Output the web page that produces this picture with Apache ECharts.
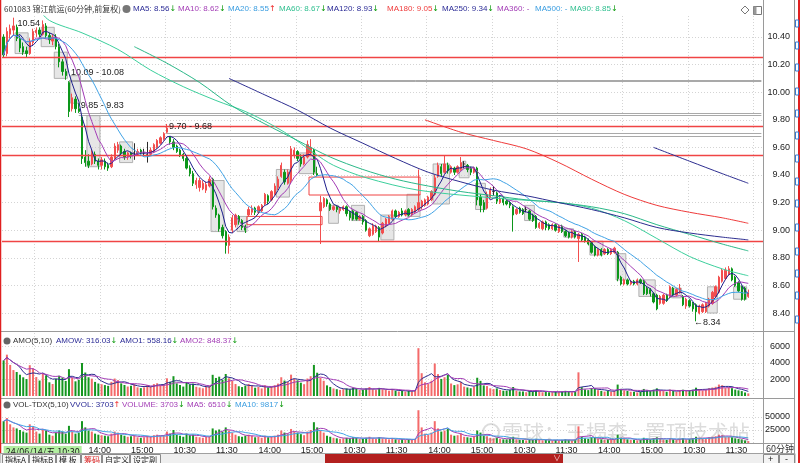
<!DOCTYPE html>
<html>
<head>
<meta charset="utf-8">
<script src="https://cdn.jsdelivr.net/npm/echarts@6/dist/echarts.min.js"></script>
<style>
html,body{margin:0;padding:0;background:#fff;}
#chart{width:800px;height:463px;}
</style>
</head>
<body>
<div id="chart"></div>
<script>
// ---------------- data ----------------
// each candle: [open, close, low, high]
const ohlc = [
[10.40,10.27,10.25,10.42],[10.28,10.44,10.26,10.47],[10.42,10.46,10.39,10.49],[10.45,10.48,10.41,10.54],[10.47,10.39,10.37,10.49],
[10.39,10.32,10.29,10.41],[10.33,10.29,10.27,10.36],[10.30,10.28,10.25,10.33],[10.28,10.37,10.27,10.39],[10.36,10.44,10.34,10.46],
[10.43,10.45,10.40,10.47],[10.45,10.42,10.40,10.47],[10.42,10.49,10.41,10.52],[10.48,10.41,10.39,10.50],[10.41,10.38,10.35,10.43],
[10.37,10.40,10.34,10.42],[10.40,10.33,10.31,10.42],[10.33,10.22,10.18,10.35],[10.22,10.15,10.12,10.24],[10.15,10.12,10.09,10.17],
[10.07,9.86,9.82,10.08],[9.88,9.96,9.86,9.99],[9.95,9.88,9.85,9.97],[9.88,9.86,9.85,9.92],[9.82,9.52,9.48,9.83],
[9.53,9.49,9.46,9.58],[9.50,9.47,9.45,9.55],[9.48,9.56,9.47,9.58],[9.55,9.50,9.48,9.57],[9.50,9.47,9.44,9.52],
[9.47,9.51,9.44,9.53],[9.50,9.46,9.44,9.52],[9.47,9.45,9.43,9.49],[9.46,9.53,9.45,9.55],[9.52,9.61,9.51,9.63],
[9.58,9.62,9.56,9.64],[9.61,9.56,9.54,9.62],[9.57,9.53,9.51,9.59],[9.53,9.56,9.51,9.57],[9.56,9.54,9.52,9.57],
[9.56,9.56,9.51,9.63],[9.55,9.57,9.54,9.59],[9.58,9.56,9.55,9.59],[9.56,9.56,9.54,9.59],[9.55,9.55,9.49,9.64],
[9.55,9.58,9.54,9.60],[9.57,9.62,9.56,9.63],[9.60,9.65,9.59,9.66],[9.63,9.67,9.62,9.68],[9.66,9.70,9.65,9.71],
[9.71,9.74,9.70,9.77],[9.68,9.64,9.62,9.68],[9.64,9.60,9.58,9.66],[9.61,9.57,9.56,9.62],[9.58,9.54,9.53,9.59],
[9.55,9.52,9.50,9.56],[9.52,9.45,9.44,9.54],[9.45,9.41,9.39,9.47],[9.41,9.34,9.32,9.43],[9.33,9.36,9.30,9.38],
[9.31,9.36,9.28,9.38],[9.30,9.34,9.29,9.36],[9.29,9.33,9.27,9.35],[9.32,9.37,9.31,9.39],[9.37,9.17,9.15,9.38],
[9.16,9.11,9.09,9.18],[9.11,9.01,8.99,9.12],[9.02,8.96,8.94,9.04],[8.99,8.89,8.83,9.00],[8.89,8.95,8.83,8.97],
[9.00,9.09,8.98,9.11],[9.04,9.11,9.02,9.12],[9.10,9.06,9.04,9.11],[9.07,9.02,9.00,9.08],[9.03,9.00,8.98,9.04],
[9.11,9.15,9.10,9.17],[9.13,9.16,9.11,9.18],[9.16,9.13,9.11,9.17],[9.13,9.17,9.12,9.18],[9.14,9.18,9.13,9.19],
[9.19,9.26,9.18,9.27],[9.25,9.21,9.19,9.26],[9.22,9.28,9.21,9.29],[9.26,9.32,9.25,9.34],[9.31,9.37,9.29,9.39],
[9.39,9.47,9.38,9.49],[9.42,9.35,9.33,9.44],[9.34,9.42,9.33,9.44],[9.36,9.59,9.34,9.61],[9.54,9.58,9.52,9.60],
[9.57,9.52,9.50,9.58],[9.53,9.48,9.46,9.55],[9.48,9.53,9.47,9.55],[9.53,9.62,9.52,9.65],[9.56,9.60,9.54,9.66],
[9.58,9.42,9.40,9.59],[9.41,9.40,9.39,9.46],[9.14,9.20,8.90,9.25],[9.17,9.23,9.16,9.24],[9.22,9.19,9.17,9.23],
[9.19,9.15,9.14,9.20],[9.15,9.17,9.14,9.18],[9.17,9.15,9.13,9.18],[9.14,9.16,9.12,9.17],[9.15,9.17,9.14,9.18],
[9.17,9.12,9.10,9.18],[9.13,9.09,9.07,9.14],[9.14,9.08,9.07,9.15],[9.13,9.08,9.07,9.14],[9.08,9.10,9.07,9.11],
[9.10,9.06,9.04,9.11],[9.07,9.00,8.99,9.08],[8.96,9.01,8.95,9.02],[8.97,9.03,8.96,9.05],[8.99,9.03,8.98,9.04],
[9.02,8.95,8.92,9.03],[8.98,9.05,8.97,9.06],[9.03,9.08,9.02,9.09],[9.05,9.10,9.04,9.11],[9.08,9.14,9.07,9.15],
[9.14,9.10,9.09,9.15],[9.10,9.13,9.09,9.14],[9.14,9.11,9.10,9.16],[9.11,9.14,9.10,9.15],[9.15,9.11,9.10,9.16],
[9.11,9.15,9.10,9.16],[9.13,9.17,9.12,9.18],[9.15,9.20,9.14,9.44],[9.17,9.21,9.15,9.22],[9.18,9.22,9.17,9.23],
[9.19,9.24,9.18,9.25],[9.22,9.28,9.21,9.29],[9.26,9.38,9.25,9.40],[9.39,9.47,9.38,9.49],[9.46,9.41,9.39,9.48],
[9.42,9.48,9.41,9.54],[9.47,9.43,9.41,9.49],[9.42,9.46,9.41,9.47],[9.45,9.42,9.40,9.46],[9.42,9.46,9.41,9.47],
[9.44,9.49,9.43,9.53],[9.48,9.48,9.45,9.50],[9.47,9.44,9.42,9.48],[9.45,9.42,9.40,9.46],[9.42,9.45,9.41,9.46],
[9.45,9.22,9.18,9.46],[9.24,9.18,9.13,9.26],[9.20,9.15,9.13,9.22],[9.16,9.26,9.15,9.28],[9.24,9.29,9.23,9.31],
[9.28,9.28,9.25,9.32],[9.27,9.21,9.19,9.28],[9.20,9.23,9.19,9.24],[9.23,9.20,9.18,9.24],[9.21,9.19,9.18,9.22],
[9.20,9.18,9.16,9.21],[9.17,9.11,8.99,9.18],[9.12,9.15,9.11,9.16],[9.16,9.13,9.12,9.17],[9.15,9.12,9.11,9.16],
[9.15,9.15,9.13,9.17],[9.14,9.08,9.07,9.15],[9.11,9.07,9.06,9.12],[9.10,9.02,9.01,9.11],[9.02,9.05,9.01,9.06],
[9.01,9.06,9.00,9.07],[9.06,9.02,9.00,9.07],[9.04,9.01,9.00,9.05],[9.01,9.04,9.00,9.05],[9.04,9.00,8.99,9.05],
[8.99,9.03,8.98,9.04],[9.03,8.99,8.98,9.04],[8.99,8.96,8.95,9.00],[8.98,8.95,8.94,8.99],[8.95,8.99,8.94,9.00],
[8.99,8.95,8.94,9.00],[8.94,8.97,8.77,8.98],[8.97,8.93,8.92,8.98],[8.95,8.92,8.91,8.96],[8.93,8.90,8.89,8.94],
[8.91,8.84,8.83,8.92],[8.88,8.82,8.81,8.89],[8.82,8.86,8.81,8.87],[8.86,8.82,8.81,8.87],[8.83,8.86,8.82,8.87],
[8.86,8.83,8.82,8.87],[8.83,8.86,8.82,8.87],[8.84,8.87,8.83,8.88],[8.84,8.65,8.63,8.85],[8.66,8.61,8.60,8.67],
[8.61,8.64,8.60,8.65],[8.64,8.61,8.60,8.65],[8.61,8.63,8.60,8.64],[8.63,8.61,8.60,8.64],[8.61,8.64,8.60,8.65],
[8.64,8.62,8.61,8.65],[8.63,8.54,8.53,8.64],[8.58,8.54,8.53,8.59],[8.57,8.54,8.52,8.58],[8.54,8.48,8.47,8.55],
[8.53,8.43,8.42,8.54],[8.47,8.52,8.46,8.53],[8.47,8.53,8.46,8.54],[8.53,8.49,8.48,8.54],[8.52,8.59,8.51,8.60],
[8.58,8.53,8.52,8.59],[8.53,8.57,8.52,8.58],[8.55,8.58,8.54,8.61],[8.52,8.46,8.45,8.53],[8.45,8.50,8.43,8.51],
[8.49,8.45,8.44,8.50],[8.47,8.43,8.41,8.48],[8.46,8.41,8.34,8.47],[8.40,8.45,8.39,8.46],[8.41,8.46,8.40,8.47],
[8.41,8.47,8.40,8.48],[8.45,8.50,8.44,8.51],[8.47,8.55,8.46,8.56],[8.52,8.59,8.51,8.60],[8.55,8.66,8.54,8.67],
[8.63,8.71,8.62,8.72],[8.65,8.71,8.64,8.73],[8.68,8.72,8.67,8.74],[8.72,8.64,8.63,8.73],[8.66,8.60,8.59,8.67],
[8.62,8.56,8.55,8.63],[8.59,8.50,8.49,8.60],[8.58,8.50,8.49,8.59],[8.52,8.55,8.51,8.57]
];
// volume (手)
const volume = [42000,48000,36000,30000,28000,25000,22000,20000,36000,32000,
22000,18000,26000,24000,16000,14000,20000,24000,22000,18000,
33000,22000,18000,20000,42000,30000,24000,22000,18000,16000,
15000,14000,13000,18000,22000,20000,16000,14000,12000,13000,
15000,11000,10000,11000,14000,12000,15000,16000,14000,15000,
22000,18000,25000,16000,14000,12000,18000,15000,16000,12000,
11000,10000,12000,13000,28000,24000,26000,22000,30000,24000,
20000,16000,13000,12000,14000,16000,14000,11000,12000,10000,
14000,11000,12000,14000,16000,24000,20000,18000,27000,22000,
20000,17000,15000,22000,25000,40000,30000,24000,20000,14000,
12000,10000,9000,8000,9000,10000,9000,11000,10000,8000,
8000,10000,12000,9000,8000,11000,9000,8000,7000,9000,
7000,6000,7000,6000,7000,6000,8000,63000,30000,18000,
16000,20000,42000,28000,22000,24000,27000,16000,14000,15000,
18000,12000,11000,10000,12000,24000,20000,14000,13000,10000,
9000,10000,8000,7000,7000,8000,12000,7000,6000,6000,
5000,7000,6000,8000,6000,5000,6000,5000,5000,6000,
5000,6000,7000,6000,5000,6000,32000,12000,9000,8000,
11000,10000,8000,7000,6000,7000,6000,7000,16000,10000,
8000,7000,6000,6000,5000,6000,10000,8000,7000,9000,
11000,8000,7000,6000,9000,7000,6000,8000,9000,7000,
8000,9000,12000,10000,8000,9000,11000,12000,13000,16000,
15000,11000,12000,11000,9000,8000,7000,5000,3703];
// amount (万元)
const amount = [4313,5011,3766,3144,2909,2580,2264,2056,3733,3341,
2299,1876,2727,2498,1661,1456,2066,2453,2233,1822,
3254,2191,1778,1968,3998,2847,2273,2103,1710,1515,
1427,1324,1229,1715,2114,1924,1530,1334,1147,1240,
1434,1053,956,1052,1337,1150,1443,1544,1354,1455,
2143,1735,2400,1531,1336,1142,1701,1412,1494,1123,
1030,934,1120,1218,2568,2186,2343,1971,2667,2148,
1818,1458,1178,1082,1260,1464,1282,1004,1100,918,
1296,1013,1114,1305,1499,2273,1870,1696,2589,2108,
1904,1612,1430,2116,2400,3768,2820,2208,1846,1287,
1098,917,824,733,825,912,818,999,908,728,
725,900,1081,813,722,985,815,726,637,823,
637,548,638,548,638,549,734,5796,2763,1660,
1478,1856,3940,2652,2070,2275,2546,1514,1319,1419,
1708,1138,1038,942,1134,2213,1836,1281,1204,929,
835,921,738,644,643,734,1093,641,548,547,
458,636,544,722,543,453,541,451,452,540,
452,539,627,537,450,537,2870,1072,803,712,
972,882,709,617,532,618,532,621,1384,861,
691,603,518,517,432,517,854,683,598,763,
927,682,597,509,773,597,514,686,761,595,
676,759,1009,845,677,762,935,1026,1117,1386,
1307,958,1046,950,774,685,595,425,316];
// long moving averages: [bar index, value]
const ma60Pts = [[10,10.62],[14,10.52],[24,10.43],[35,10.31],[45,10.16],[55,10.04],[65,9.94],[75,9.85],[86,9.71],[95,9.56],[101,9.47],[111,9.38],[127,9.29],[152,9.23],[170,9.20],[180,9.16],[190,9.07],[200,8.94],[210,8.81],[220,8.72],[228,8.67]];
const ma90Pts = [[40,10.33],[50,10.21],[60,10.07],[70,9.90],[80,9.77],[90,9.65],[100,9.53],[110,9.44],[120,9.37],[130,9.32],[140,9.28],[150,9.25],[160,9.22],[170,9.20],[180,9.17],[190,9.12],[200,9.04],[210,8.97],[220,8.90],[228,8.85]];
const ma120Pts = [[69,10.10],[80,9.98],[90,9.87],[100,9.74],[110,9.63],[120,9.52],[130,9.42],[140,9.35],[150,9.29],[160,9.25],[170,9.20],[180,9.15],[190,9.09],[200,9.02],[210,8.98],[220,8.95],[228,8.93]];
const ma180Pts = [[129,9.80],[140,9.71],[150,9.65],[160,9.59],[170,9.49],[180,9.37],[190,9.26],[200,9.18],[210,9.13],[220,9.09],[228,9.05]];
const ma250Pts = [[199,9.60],[210,9.50],[220,9.41],[228,9.34]];
// horizontal levels
const redLevels = [10.25, 9.75, 9.54, 8.92];
const gapLines = [[20, 10.09, 10.08], [23, 9.85, 9.83], [50, 9.70, 9.68]];
// boxes: [firstBar, lastBar, low, high]
const grayBoxes = [[4,7,10.28,10.43],[12,15,10.33,10.47],[16,19,10.10,10.29],[21,23,9.92,10.12],[26,29,9.46,9.83],[36,39,9.49,9.64],
[64,67,8.99,9.36],[72,74,8.99,9.10],[84,87,9.24,9.44],[91,95,9.41,9.56],[100,102,9.05,9.18],[107,110,9.07,9.18],[116,119,8.93,9.11],
[124,127,9.10,9.26],[132,136,9.19,9.48],[140,142,9.38,9.45],[141,141,9.46,9.50],[145,147,9.15,9.34],[160,162,9.07,9.18],[172,174,8.95,9.01],
[180,183,8.82,8.92],[188,190,8.64,8.83],[195,199,8.52,8.64],[205,207,8.51,8.58],[216,218,8.40,8.59],[224,227,8.50,8.59]];
const redBoxes = [[94,127,9.255,9.385],[75,97,9.04,9.10]];
// axis tick labels
const priceTicks = [8.40,8.60,8.80,9.00,9.20,9.40,9.60,9.80,10.00,10.20,10.40];
const amoTicks = [2000,4000,6000];
const volTicks = [25000,50000];
const xTicks = [[0,'24/06/14/五 10:30'],[26,'14:00'],[39,'15:00'],[52,'10:30'],[65,'11:30'],[78,'14:00'],[91,'15:00'],[104,'10:30'],[117,'11:30'],[130,'14:00'],[143,'15:00'],[156,'10:30'],[169,'11:30'],[182,'14:00'],[195,'15:00'],[208,'10:30'],[221,'11:30']];
const slotCount = 233;

// ---------------- build ----------------
const FONT = "'Liberation Sans', Arial, 'Noto Sans CJK SC', sans-serif";
const CJK = "'Noto Sans CJK SC', 'Liberation Sans', sans-serif";
const cats = Array.from({length: slotCount}, (_, i) => String(i));
const tickMap = {}; xTicks.forEach(t => { tickMap[t[0]] = t[1]; });
const UP = '#f24e4e', DN = '#0c961a', DOJI = '#2a2a2a';
const UPV = '#f46a6a', DNV = '#15961f';

function maOf(arr, n) {
  return arr.map((_, i) => {
    const s = Math.max(0, i - n + 1); let sum = 0;
    for (let k = s; k <= i; k++) sum += arr[k];
    return +(sum / (i - s + 1)).toFixed(4);
  });
}
const closes = ohlc.map(d => d[1]);
const candleData = ohlc.map(d => {
  const c = d[1] === d[0] ? DOJI : (d[1] > d[0] ? UP : DN);
  return {value: d, itemStyle: {color: c, color0: c, borderColor: c, borderColor0: c}};
});
const dirColor = i => (ohlc[i][1] >= ohlc[i][0] ? UPV : DNV);
const volData = volume.map((v, i) => ({value: v, itemStyle: {color: dirColor(i)}}));
const amoData = amount.map((v, i) => ({value: v, itemStyle: {color: dirColor(i)}}));

function boxRender(fill, stroke) {
  return function (params, api) {
    const a = api.coord([api.value(0), api.value(3)]);
    const b = api.coord([api.value(1), api.value(2)]);
    const w = api.size([1, 0])[0];
    return {type: 'rect', shape: {x: a[0] - w / 2, y: a[1], width: b[0] - a[0] + w, height: b[1] - a[1]},
      style: {fill: fill, stroke: stroke, lineWidth: 1}};
  };
}
function line(name, data, color, xi, yi, extra) {
  return Object.assign({type: 'line', name, data, xAxisIndex: xi, yAxisIndex: yi, showSymbol: false, symbol: 'none',
    lineStyle: {color, width: 1}, itemStyle: {color}, silent: true, z: 5}, extra || {});
}
const gridBase = {left: 2, right: 37, containLabel: false, outerBoundsMode: 'none', show: false};
const splitV = {show: true, interval: (i) => i % 20 === 10, lineStyle: {color: '#d4d4d4', type: [1, 2], width: 1}};
function xAx(gi, labels) {
  return {type: 'category', gridIndex: gi, data: cats, boundaryGap: true,
    axisLine: {show: false}, axisTick: {show: false}, splitLine: splitV,
    axisLabel: labels ? {
      show: true, interval: (i) => tickMap[i] !== undefined, hideOverlap: false,
      formatter: (v, i) => (i === 0 ? '{d|' + tickMap[0] + '}' : (tickMap[i] || '')),
      align: 'left', margin: 3, fontSize: 9, color: '#222', fontFamily: FONT,
      rich: {d: {backgroundColor: '#b2eea0', padding: [1, 2, 0, 2], fontSize: 9, color: '#222', fontFamily: CJK}}
    } : {show: false}};
}
function yAx(gi, min, max, ticks, fmt) {
  return {type: 'value', gridIndex: gi, position: 'right', min, max,
    axisLine: {show: false}, axisTick: {show: false, customValues: ticks},
    axisLabel: {show: true, customValues: ticks, formatter: fmt, align: 'right', margin: 27, fontSize: 9, color: '#222', fontFamily: FONT, hideOverlap: false},
    splitLine: {show: true, lineStyle: {color: '#d4d4d4', type: [1, 2], width: 1}}};
}

const markLineData = [];
redLevels.forEach(v => markLineData.push({yAxis: v, lineStyle: {color: '#f04444', width: 1.3, type: 'solid'}, label: {show: false}}));
gapLines.forEach(g => {
  markLineData.push([{coord: [g[0], g[1]], lineStyle: {color: '#a9a9a9', width: 1, type: 'solid'},
    label: {show: true, position: 'insideStartTop', formatter: g[1].toFixed(2) + ' - ' + g[2].toFixed(2), color: '#222', fontSize: 9, fontFamily: FONT, distance: [2, 3]}},
    {coord: [slotCount - 1, g[1]]}]);
  markLineData.push([{coord: [g[0], g[2]], lineStyle: {color: '#a9a9a9', width: 1, type: 'solid'}, label: {show: false}},
    {coord: [slotCount - 1, g[2]]}]);
});
markLineData.push({yAxis: 10.31, lineStyle: {opacity: 0, width: 0},
  label: {show: true, position: 'end', formatter: '10.31', backgroundColor: '#a8ec92', color: '#111', padding: [2, 3, 1, 3], fontSize: 9, fontFamily: FONT, distance: 0, offset: [0, -5]}});

const TXT = (x, y, text, fill, size, extra) => ({type: 'text', x, y, silent: true, z: 50,
  style: Object.assign({text, fill, fontSize: size || 8, fontFamily: FONT, verticalAlign: 'middle', align: 'left'}, extra || {})});
const RICH = (x, y, label, color, arrow, arrowColor) => TXT(x, y, '{n|' + label + '}' + (arrow ? '{a|' + arrow + '}' : ''), color, 8, {
  rich: {n: {fill: color, fontSize: 8, fontFamily: FONT}, a: {fill: arrowColor, fontSize: 8, fontFamily: "'DejaVu Sans', sans-serif"}}});
const G = '#0a9a0a', R = '#ee2222';
const NAVY = '#2b2b96', PURP = '#a33db6', LBLUE = '#3a9de0', TEAL = '#2fbf8f', RED = '#ef3b3b';
const LN = (x1, y1, x2, y2, stroke, w) => ({type: 'line', silent: true, z: 40, shape: {x1, y1, x2, y2}, style: {stroke, lineWidth: w || 1}});
const RECT = (x, y, w, h, fill, stroke, z) => ({type: 'rect', silent: true, z: z || 40, shape: {x, y, width: w, height: h}, style: {fill, stroke: stroke || 'none', lineWidth: 1}});

const graphics = [
  TXT(4, 9, '601083 锦江航运(60分钟,前复权)', '#333', 8, {fontFamily: CJK}),
  {type: 'circle', silent: true, z: 50, shape: {cx: 126.5, cy: 9, r: 4}, style: {fill: '#777'}},
  RICH(133, 9, 'MA5: 8.56', NAVY, '↓', G),
  RICH(178, 9, 'MA10: 8.62', PURP, '↓', G),
  RICH(228, 9, 'MA20: 8.55', LBLUE, '↑', R),
  RICH(279, 9, 'MA60: 8.67', TEAL, '↓', G),
  RICH(327, 9, 'MA120: 8.93', NAVY, '↓', G),
  RICH(387, 9, 'MA180: 9.05', RED, '↓', G),
  RICH(442, 9, 'MA250: 9.34', NAVY, '↓', G),
  RICH(497, 9, 'MA360: -', PURP),
  RICH(535, 9, 'MA500: -', LBLUE),
  RICH(570, 9, 'MA90: 8.85', TEAL, '↓', G),
  {type: 'polygon', silent: true, z: 50, shape: {points: [[745, 6], [749, 10], [745, 14], [741, 10]]}, style: {fill: 'none', stroke: '#777'}},
  RECT(753.5, 6.5, 8, 8, 'none', '#777', 50),
  RECT(753.5, 6.5, 3, 8, '#999', 'none', 50),
  // AMO header
  {type: 'circle', silent: true, z: 50, shape: {cx: 7, cy: 341, r: 3.5}, style: {fill: '#666'}},
  TXT(13, 341, 'AMO(5,10)', '#333'),
  RICH(56, 341, 'AMOW: 316.03', NAVY, '↓', G),
  RICH(120, 341, 'AMO1: 558.16', NAVY, '↓', G),
  RICH(180, 341, 'AMO2: 848.37', PURP, '↓', G),
  // VOL header
  {type: 'circle', silent: true, z: 50, shape: {cx: 7, cy: 405, r: 3.5}, style: {fill: '#666'}},
  TXT(13, 405, 'VOL-TDX(5,10)', '#333'),
  RICH(70, 405, 'VVOL: 3703', NAVY, '↑', R),
  RICH(122, 405, 'VOLUME: 3703', PURP, '↓', G),
  RICH(187, 405, 'MA5: 6510', PURP, '↓', G),
  RICH(235, 405, 'MA10: 9817', LBLUE, '↓', G),
  TXT(766, 449, '60分钟', '#333', 9, {fontFamily: CJK}),
  // separators / frame
  LN(0, 331.5, 795, 331.5, '#9a9a9a'),
  LN(0, 398.5, 795, 398.5, '#9a9a9a'),
  LN(0, 443.5, 795, 443.5, '#9a9a9a'),
  LN(763.5, 0, 763.5, 453, '#9a9a9a'),
  LN(794.5, 0, 794.5, 463, '#9a9a9a'),
  LN(0.5, 0, 0.5, 463, '#e02020', 1.5),
  LN(799, 0, 799, 463, '#e02020', 2),
  // bottom bar
  RECT(0, 453.5, 795, 10, '#efefef', '#a0a0a0'),
  RECT(2.5, 454.5, 26, 9, '#f8f8f8', '#8a8a8a'), TXT(5, 459.5, '指标A', '#222', 8, {fontFamily: CJK}),
  RECT(29.5, 454.5, 26, 9, '#f8f8f8', '#8a8a8a'), TXT(32, 459.5, '指标B', '#222', 8, {fontFamily: CJK}),
  RECT(56.5, 454.5, 24, 9, '#f8f8f8', '#8a8a8a'), TXT(59, 459.5, '模 板', '#222', 8, {fontFamily: CJK}),
  RECT(81.5, 454.5, 20, 9, '#f8f8f8', '#8a8a8a'), TXT(84, 459.5, '筹码', '#d22', 8, {fontFamily: CJK}),
  RECT(102.5, 454.5, 27, 9, '#f8f8f8', '#8a8a8a'), TXT(105, 459.5, '自定义', '#222', 8, {fontFamily: CJK}),
  RECT(130.5, 454.5, 30, 9, '#f8f8f8', '#8a8a8a'), TXT(133, 459.5, '设定副', '#222', 8, {fontFamily: CJK}),
  RECT(325, 454, 238, 9, '#b3201f'),
  TXT(553, 459, '∨', '#f0c0c0', 8),
  RECT(763.5, 454.5, 15, 9, '#f4f4f4', '#8a8a8a'), TXT(768, 459.5, '+', '#222', 9),
  RECT(779.5, 454.5, 15, 9, '#f4f4f4', '#8a8a8a'), TXT(785, 459.5, '-', '#222', 9),
  // watermark
  {type: 'circle', silent: true, z: 60, shape: {cx: 491, cy: 432, r: 8}, style: {fill: 'none', stroke: 'rgba(140,140,140,0.3)', lineWidth: 2}},
  TXT(502, 432, '雪球：王揭森 - 置顶技术帖', 'rgba(130,130,130,0.28)', 21, {fontFamily: CJK})
];
[20, 42, 64, 88, 110, 132, 155, 178, 200, 224, 248, 270, 292, 316].forEach(y => graphics.push(RECT(795.5, y, 3, 7, 'none', '#3a78d0', 45)));

const option = {
  animation: false,
  backgroundColor: '#ffffff',
  textStyle: {fontFamily: FONT},
  grid: [
    Object.assign({}, gridBase, {top: 16, height: 314}),
    Object.assign({}, gridBase, {top: 333, height: 63}),
    Object.assign({}, gridBase, {top: 400, height: 43})
  ],
  xAxis: [xAx(0, false), xAx(1, false), xAx(2, true)],
  yAxis: [
    yAx(0, 8.277, 10.552, priceTicks, v => v.toFixed(2)),
    yAx(1, 0, 7636, amoTicks, v => String(v)),
    yAx(2, 0, 82690, volTicks, v => String(v))
  ],
  graphic: graphics,
  series: [
    {type: 'custom', name: 'grayBoxes', xAxisIndex: 0, yAxisIndex: 0, data: grayBoxes, encode: {x: [0, 1], y: [2, 3]},
      renderItem: boxRender('rgba(205,205,205,0.5)', 'rgba(170,170,170,0.9)'), z: 1, silent: true},
    {type: 'candlestick', name: 'K', xAxisIndex: 0, yAxisIndex: 0, data: candleData, barWidth: 1.8,
      itemStyle: {borderWidth: 1}, z: 3, silent: true,
      markLine: {silent: true, symbol: ['none', 'none'], animation: false, data: markLineData},
      markPoint: {silent: true, symbol: 'circle', symbolSize: 0, animation: false, data: [
        {coord: [3, 10.54], label: {show: true, formatter: '10.54', position: 'right', distance: 4, offset: [0, 6], color: '#222', fontSize: 9, fontFamily: FONT}},
        {coord: [212, 8.34], label: {show: true, formatter: '←8.34', position: 'right', distance: 0, offset: [-2, 1], color: '#222', fontSize: 9, fontFamily: FONT}}
      ]}},
    {type: 'custom', name: 'redBoxes', xAxisIndex: 0, yAxisIndex: 0, data: redBoxes, encode: {x: [0, 1], y: [2, 3]},
      renderItem: boxRender('none', '#f04444'), z: 4, silent: true},
    line('MA5', maOf(closes, 5), '#1e1e8c', 0, 0),
    line('MA10', maOf(closes, 10), '#a33db6', 0, 0),
    line('MA20', maOf(closes, 20), '#41a3e6', 0, 0),
    line('MA60', ma60Pts, '#3ccf9c', 0, 0, {smooth: 0.3}),
    line('MA90', ma90Pts, '#2ab888', 0, 0, {smooth: 0.3}),
    line('MA120', ma120Pts, '#2d2d90', 0, 0, {smooth: 0.3}),
    line('MA180', ma180Pts, '#ef3b3b', 0, 0, {smooth: 0.3}),
    line('MA250', ma250Pts, '#2d2d90', 0, 0, {smooth: 0.3}),
    {type: 'bar', name: 'AMO', xAxisIndex: 1, yAxisIndex: 1, data: amoData, barWidth: 2, silent: true, z: 3},
    line('AMO1', maOf(amount, 5), '#2d2d90', 1, 1),
    line('AMO2', maOf(amount, 10), '#a33db6', 1, 1),
    {type: 'bar', name: 'VOL', xAxisIndex: 2, yAxisIndex: 2, data: volData, barWidth: 2, silent: true, z: 3},
    line('VMA5', maOf(volume, 5), '#a33db6', 2, 2),
    line('VMA10', maOf(volume, 10), '#41a3e6', 2, 2)
  ]
};
const chart = echarts.init(document.getElementById('chart'), null, {renderer: 'canvas'});
chart.setOption(option);
</script>
</body>
</html>
